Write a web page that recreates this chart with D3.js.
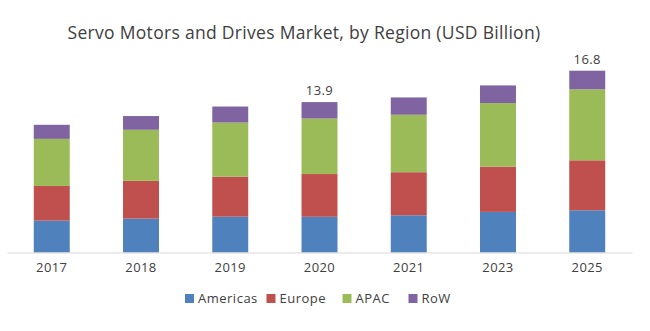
<!DOCTYPE html>
<html>
<head>
<meta charset="utf-8">
<script src="https://cdnjs.cloudflare.com/ajax/libs/d3/7.8.5/d3.min.js"></script>
<style>
  body { margin: 0; background: #fff; }
  text { font-family: "Open Sans", sans-serif; fill: #404040; }
</style>
</head>
<body>
<script>
// market size by region, USD billion
var years = ["2017", "2018", "2019", "2020", "2021", "2023", "2025"];
var regions = ["Americas", "Europe", "APAC", "RoW"];
var americas = [2.94, 3.13, 3.31, 3.30, 3.44, 3.75, 3.90];
var europe   = [3.21, 3.49, 3.70, 3.95, 3.98, 4.19, 4.62];
var apac     = [4.35, 4.72, 5.00, 5.13, 5.31, 5.87, 6.56];
var row      = [1.30, 1.27, 1.48, 1.52, 1.60, 1.63, 1.72];
var labelled = ["2020", "2025"]; // bars that get a total on top
var colors = ["#4f81bd", "#c0504d", "#9bbb59", "#8064a2"];

var width = 650, height = 331;

var svg = d3.select("body").append("svg")
    .attr("width", width)
    .attr("height", height);

// build rows for the stack
var table = years.map(function(y, i){
    return {year: y, Americas: americas[i], Europe: europe[i], APAC: apac[i], RoW: row[i]};
});
var series = d3.stack().keys(regions)(table);

var x = d3.scaleBand()
    .domain(years)
    .range([7, 632])
    .paddingInner(0.597)
    .paddingOuter(0.3);

var y = d3.scaleLinear()
    .domain([0, 16.8])
    .range([252.5, 70.7]);

var color = d3.scaleOrdinal().domain(regions).range(colors);

// title
svg.append("text")
    .attr("x", 304)
    .attr("y", 39)
    .attr("text-anchor", "middle")
    .style("font-size", "17.5px")
    .style("letter-spacing", "0.3px")
    .text("Servo Motors and Drives Market, by Region (USD Billion)");

// stacked bars
svg.selectAll(".layer")
    .data(series)
    .enter()
    .append("g")
    .attr("class", "layer")
    .attr("fill", function(d){ return color(d.key); })
    .selectAll("rect")
    .data(function(d){ return d; })
    .enter()
    .append("rect")
    .attr("x", function(d){ return x(d.data.year); })
    .attr("width", x.bandwidth())
    .attr("y", function(d){ return y(d[1]); })
    .attr("height", function(d){ return y(d[0]) - y(d[1]); });

// x axis
var xAxis = svg.append("g")
    .attr("transform", "translate(0," + y(0) + ")")
    .call(d3.axisBottom(x).tickSize(0).tickPadding(10));
xAxis.select(".domain").attr("stroke", "#d9d9d9").attr("stroke-width", 1);
xAxis.selectAll("text")
    .style("font-size", "13px")
    .style("letter-spacing", "0.4px")
    .style("font-family", "Open Sans, sans-serif")
    .attr("fill", "#404040");

// totals above selected bars
svg.selectAll(".total")
    .data(table.filter(function(d){ return labelled.indexOf(d.year) >= 0; }))
    .enter()
    .append("text")
    .attr("class", "total")
    .attr("x", function(d){ return x(d.year) + x.bandwidth() / 2; })
    .attr("y", function(d){
        var t = d.Americas + d.Europe + d.APAC + d.RoW;
        return y(t) - 7;
    })
    .attr("text-anchor", "middle")
    .style("font-size", "13px")
    .style("letter-spacing", "0.4px")
    .text(function(d){
        return d3.format(".1f")(d.Americas + d.Europe + d.APAC + d.RoW);
    });

// legend
var legendX = [185, 266.5, 342.5, 408.5];
var legend = svg.selectAll(".legend")
    .data(regions)
    .enter()
    .append("g")
    .attr("class", "legend")
    .attr("transform", function(d, i){ return "translate(" + legendX[i] + ",298)"; });

legend.append("rect")
    .attr("x", 0)
    .attr("y", -4)
    .attr("width", 9)
    .attr("height", 9)
    .attr("fill", function(d){ return color(d); });

legend.append("text")
    .attr("x", 13)
    .attr("y", 5)
    .style("font-size", "13px")
    .style("letter-spacing", "0.5px")
    .text(function(d){ return d; });
</script>
</body>
</html>
